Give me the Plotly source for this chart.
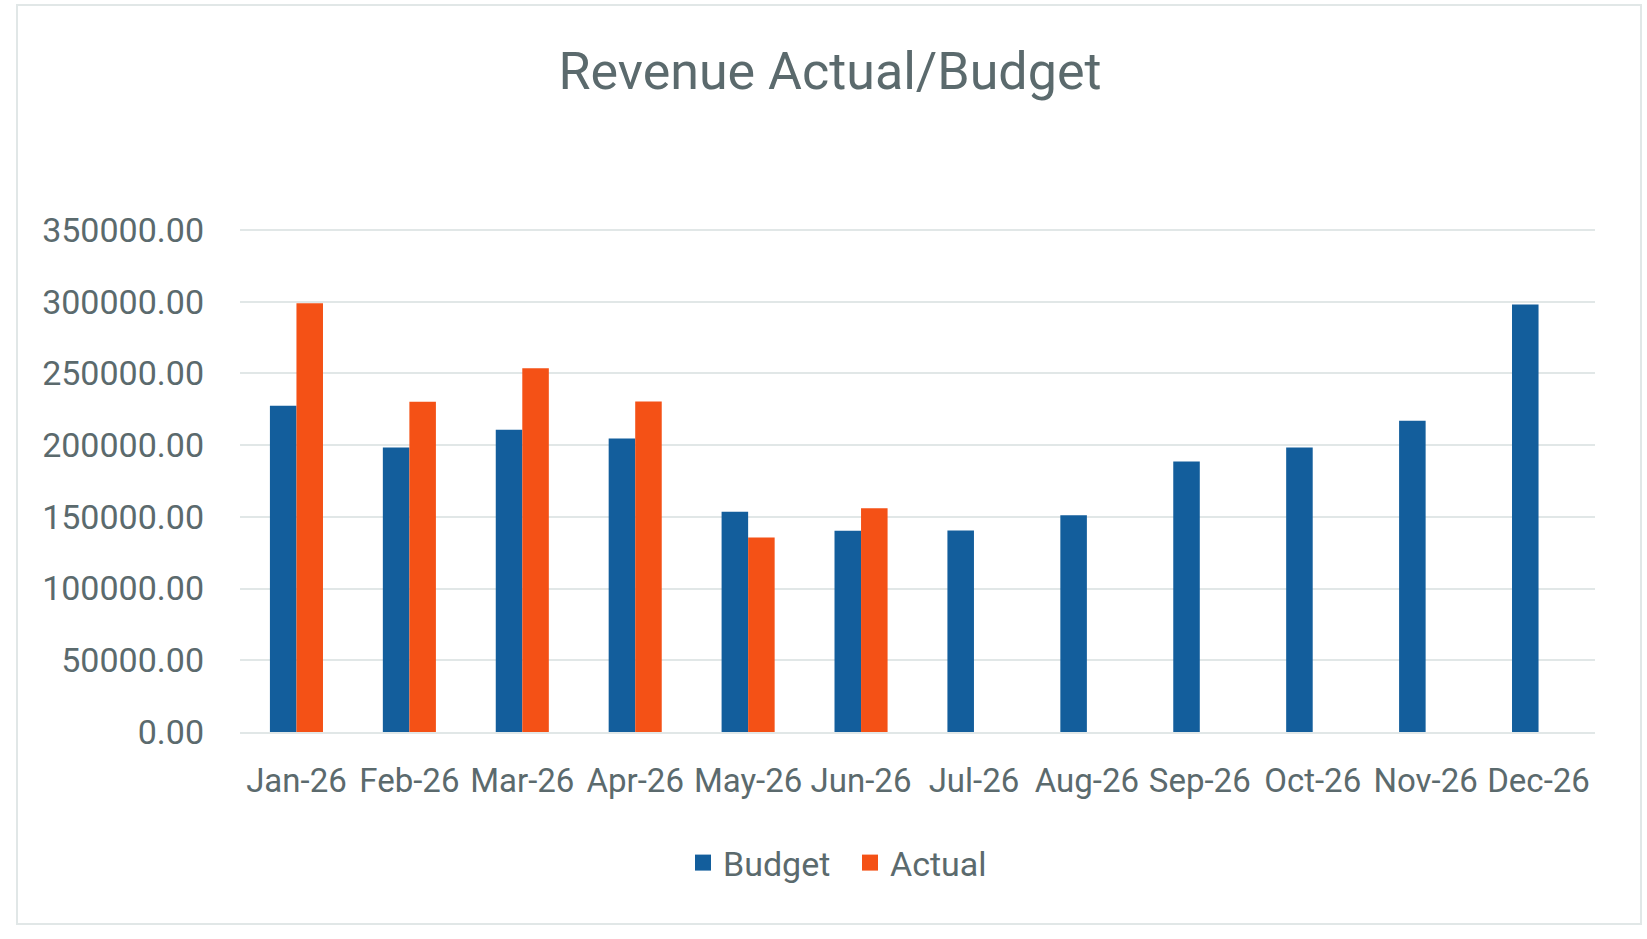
import plotly.graph_objects as go

# values
months = ["Jan-26", "Feb-26", "Mar-26", "Apr-26", "May-26", "Jun-26",
          "Jul-26", "Aug-26", "Sep-26", "Oct-26", "Nov-26", "Dec-26"]
budget = [227400, 198300, 210700, 204500, 153600, 140200,
          140500, 151000, 188600, 198300, 217000, 297900]
actual = [298900, 230200, 253600, 230400, 135500, 155900,
          None, None, None, None, None, None]
y_ticks = [0, 50000, 100000, 150000, 200000, 250000, 300000, 350000]

BUDGET_COLOR = "#135E9C"
ACTUAL_COLOR = "#F45116"
TEXT_COLOR = "#5B6A6D"
GRID_COLOR = "#E1E7E7"
FONT = "Roboto, Lato, sans-serif"

W, H = 1647, 939
MARGIN = dict(l=240, r=52, t=227, b=207, pad=0)

fig = go.Figure()

fig.add_trace(go.Bar(x=months, y=budget, name="Budget", marker=dict(color=BUDGET_COLOR, line=dict(width=0)),
                     showlegend=False))
fig.add_trace(go.Bar(x=months, y=actual, name="Actual", marker=dict(color=ACTUAL_COLOR, line=dict(width=0)),
                     showlegend=False))

# legend-only traces so the legend squares come out bigger than the default bar icon
for name, color in [("Budget", BUDGET_COLOR), ("Actual", ACTUAL_COLOR)]:
    fig.add_trace(go.Scatter(x=[None], y=[None], mode="markers", name=name,
                             marker=dict(symbol="square", size=20, color=color)))

plot_w = W - MARGIN["l"] - MARGIN["r"]
plot_h = H - MARGIN["t"] - MARGIN["b"]

# light outer frame around the whole chart
fig.add_shape(type="rect", xref="paper", yref="paper",
              x0=(17 - MARGIN["l"]) / plot_w, x1=(1641 - MARGIN["l"]) / plot_w,
              y0=(H - MARGIN["b"] - 924) / plot_h, y1=(H - MARGIN["b"] - 5) / plot_h,
              line=dict(color="#E1E7E7", width=2), fillcolor="rgba(0,0,0,0)", layer="below")

fig.update_layout(
    width=W,
    height=H,
    margin=MARGIN,
    paper_bgcolor="white",
    plot_bgcolor="white",
    barmode="group",
    bargap=0.53,
    bargroupgap=0,
    font=dict(family=FONT, color=TEXT_COLOR, size=33),
    title=dict(text="Revenue Actual/Budget", x=830 / W, xanchor="center", y=1 - 71 / H, yanchor="middle",
               font=dict(size=52, color=TEXT_COLOR, family=FONT)),
    legend=dict(orientation="h", x=(850 - MARGIN["l"]) / plot_w, xanchor="center",
                y=(H - MARGIN["b"] - 863) / plot_h, yanchor="middle",
                font=dict(size=34, color=TEXT_COLOR), itemwidth=30, tracegroupgap=0,
                entrywidth=122, entrywidthmode="pixels"),
    xaxis=dict(showgrid=False, showline=True, linecolor=GRID_COLOR, linewidth=2,
               ticks="", ticklabelstandoff=18, tickfont=dict(size=33)),
    yaxis=dict(range=[0, 352000], tickmode="array", tickvals=y_ticks, tickformat=".2f",
               showgrid=True, gridcolor=GRID_COLOR, gridwidth=2, zeroline=False,
               showline=False, ticks="", ticklabelstandoff=35, tickfont=dict(size=34)),
    showlegend=True,
)

# drop the default 8px page margin so the figure sits flush in the window
fig.write_html("out.html", config={"displayModeBar": False},
               post_script="document.body.style.margin='0';")
